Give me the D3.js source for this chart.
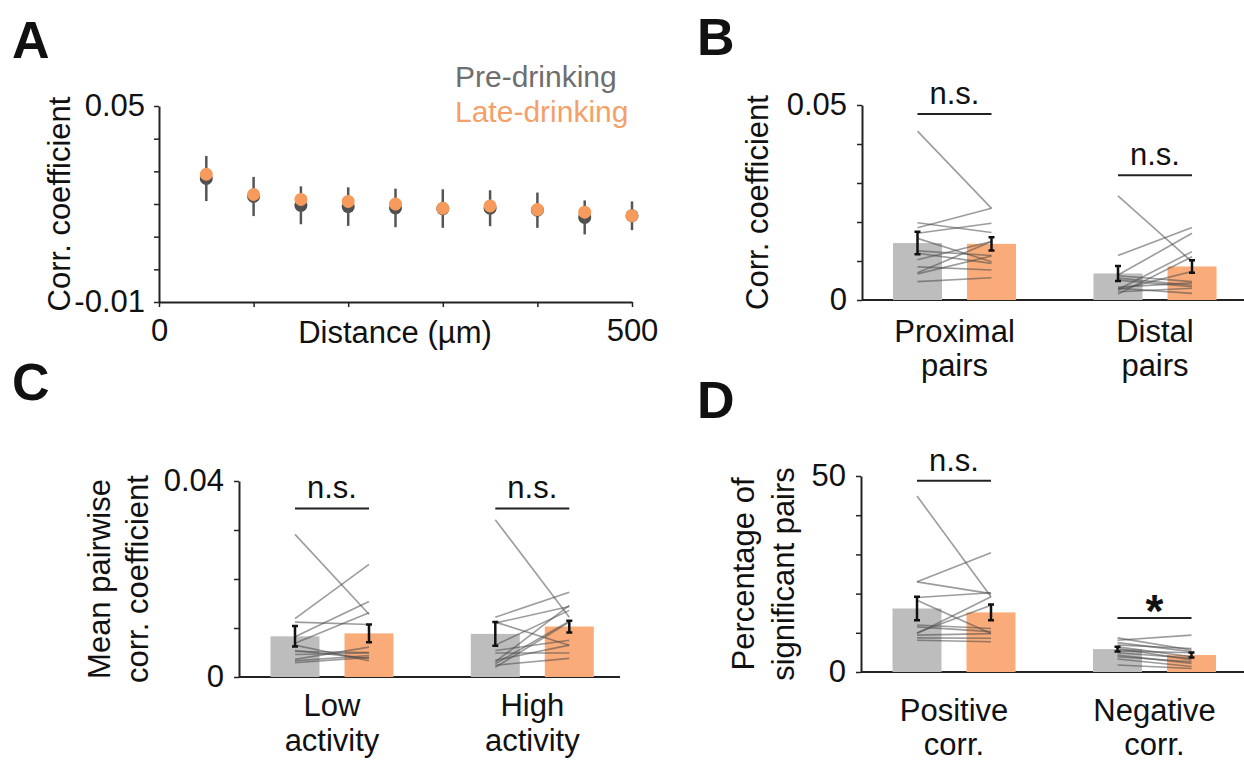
<!DOCTYPE html>
<html>
<head>
<meta charset="utf-8">
<script src="https://cdn.jsdelivr.net/npm/d3@7"></script>
<style>
  body { margin: 0; background: #fff; }
  svg text { font-family: Arial, "Liberation Sans", sans-serif; fill: #111; }
</style>
</head>
<body>
<svg id="fig" width="1244" height="761"></svg>
<script>
// ---- panel A: correlation vs distance
const distances = [50, 100, 150, 200, 250, 300, 350, 400, 450, 500];
const aPreMean  = [0.0278, 0.0223, 0.0196, 0.0192, 0.0188, 0.0186, 0.0187, 0.0181, 0.0159, 0.0164];
const aPreSem   = [0.0069, 0.0060, 0.0058, 0.0059, 0.0059, 0.0059, 0.0055, 0.0054, 0.0052, 0.0044];
const aLateMean = [0.0291, 0.0229, 0.0214, 0.0208, 0.0200, 0.0187, 0.0194, 0.0183, 0.0175, 0.0164];
const seriesNames = ['Pre-drinking', 'Late-drinking'];

// ---- panel B: proximal / distal pairs
const bGroups   = [['Proximal', 'pairs'], ['Distal', 'pairs']];
const bPreMean  = [0.0146, 0.0068];
const bLateMean = [0.0144, 0.0086];
const bPreSem   = [0.0029, 0.0019];
const bLateSem  = [0.0017, 0.0016];
const bPairs = [
  [[0.0433, 0.0235], [0.0198, 0.0173], [0.0185, 0.0235], [0.0171, 0.0197], [0.0158, 0.0098], [0.0126, 0.0114],
   [0.0120, 0.0094], [0.0103, 0.0150], [0.0085, 0.0077], [0.0070, 0.0150], [0.0067, 0.0113], [0.0047, 0.0057]],
  [[0.0267, 0.0098], [0.0114, 0.0186], [0.0064, 0.0171], [0.0062, 0.0047], [0.0056, 0.0038], [0.0027, 0.0124],
   [0.0026, 0.0073], [0.0021, 0.0030], [0.0015, 0.0111], [0.0030, 0.0017], [0.0051, 0.0034], [0.0033, 0.0044]]
];
const bSig   = ['n.s.', 'n.s.'];
const bSigAt = [0.0477, 0.0320];

// ---- panel C: low / high activity
const cGroups   = [['Low', 'activity'], ['High', 'activity']];
const cPreMean  = [0.0083, 0.0088];
const cLateMean = [0.0089, 0.0103];
const cPreSem   = [0.0021, 0.0024];
const cLateSem  = [0.0018, 0.0012];
const cPairs = [
  [[0.0291, 0.0128], [0.0119, 0.0230], [0.0112, 0.0107], [0.0082, 0.0154], [0.0069, 0.0131], [0.0065, 0.0033],
   [0.0054, 0.0038], [0.0046, 0.0049], [0.0036, 0.0061], [0.0033, 0.0044], [0.0029, 0.0040], [0.0052, 0.0050]],
  [[0.0321, 0.0122], [0.0122, 0.0173], [0.0112, 0.0065], [0.0110, 0.0144], [0.0065, 0.0136], [0.0054, 0.0075],
   [0.0049, 0.0049], [0.0031, 0.0146], [0.0027, 0.0114], [0.0024, 0.0038], [0.0020, 0.0112], [0.0034, 0.0065]]
];
const cSig   = ['n.s.', 'n.s.'];
const cSigAt = [0.0344, 0.0344];

// ---- panel D: percentage of significant pairs
const dGroups   = [['Positive', 'corr.'], ['Negative', 'corr.']];
const dPreMean  = [16.2, 5.85];
const dLateMean = [15.2, 4.33];
const dPreSem   = [3.0, 0.6];
const dLateSem  = [2.0, 0.65];
const dPairs = [
  [[44.9, 19.2], [23.0, 30.4], [23.0, 20.0], [19.0, 20.2], [18.3, 9.8], [12.0, 11.1],
   [11.5, 10.3], [10.0, 17.0], [9.8, 19.2], [9.4, 9.8], [8.7, 8.6], [8.1, 7.7]],
  [[8.7, 5.6], [8.1, 9.4], [7.5, 5.2], [6.9, 6.0], [6.0, 3.1], [5.4, 4.9],
   [4.3, 2.2], [3.9, 2.6], [3.3, 1.4], [1.8, 0.9], [6.4, 3.9], [4.9, 3.5]]
];
const dSig   = ['n.s.', '*'];
const dSigAt = [48.8, 13.8];

const greyBar = '#bdbdbd', orangeBar = '#f9ab79';
const greyDot = '#4f4f4f', orangeDot = '#f79b5c';
const axisCol = '#222';
const fs = 31;

const svg = d3.select('#fig');

function styleAxis(sel) {
  sel.attr('font-size', fs).attr('font-family', null);
  sel.select('.domain').attr('stroke', axisCol).attr('stroke-width', 2);
  sel.selectAll('.tick line').attr('stroke', axisCol).attr('stroke-width', 1.5);
  sel.selectAll('.tick text').attr('fill', '#111');
}

function panelLetter(txt, x, y) {
  svg.append('text').attr('x', x).attr('y', y)
    .attr('font-size', 52).attr('font-weight', 'bold').text(txt);
}

// ---------- panel A
panelLetter('A', 12, 58);
const xA = d3.scaleLinear().domain([0, 500]).range([159, 632]);
const yA = d3.scaleLinear().domain([-0.01, 0.05]).range([302, 106]);
const near = (a, b) => Math.abs(a - b) < 1e-9;

svg.append('g').attr('transform', 'translate(0,302)')
  .call(d3.axisBottom(xA).tickValues(d3.range(0, 501, 100)).tickSize(5).tickSizeOuter(0).tickPadding(12)
    .tickFormat(d => (d === 0 || d === 500) ? d : ''))
  .call(styleAxis);

svg.append('g').attr('transform', 'translate(159,0)')
  .call(d3.axisLeft(yA).tickValues(d3.range(-0.01, 0.0501, 0.01)).tickSize(5).tickSizeOuter(0).tickPadding(9)
    .tickFormat(d => (near(d, -0.01) || near(d, 0.05)) ? d.toFixed(2) : ''))
  .call(styleAxis);

svg.append('text').attr('transform', 'translate(70,204) rotate(-90)')
  .attr('text-anchor', 'middle').attr('font-size', fs).text('Corr. coefficient');
svg.append('text').attr('x', 395).attr('y', 343)
  .attr('text-anchor', 'middle').attr('font-size', fs).text('Distance (µm)');

const legend = svg.append('g');
legend.selectAll('text').data(seriesNames).enter().append('text')
  .attr('x', 455).attr('y', (d, i) => 87 + i * 35)
  .attr('font-size', 30)
  .style('fill', (d, i) => i === 0 ? '#6e6e6e' : '#f5a068')
  .text(d => d);

const aG = svg.append('g');
aG.selectAll('circle.pre').data(distances).enter().append('circle')
  .attr('class', 'pre')
  .attr('cx', d => xA(d)).attr('cy', (d, i) => yA(aPreMean[i])).attr('r', 6.5)
  .attr('fill', greyDot);
aG.selectAll('line.err').data(distances).enter().append('line')
  .attr('class', 'err')
  .attr('x1', d => xA(d)).attr('x2', d => xA(d))
  .attr('y1', (d, i) => yA(aPreMean[i] + aPreSem[i]))
  .attr('y2', (d, i) => yA(aPreMean[i] - aPreSem[i]))
  .attr('stroke', '#555').attr('stroke-width', 2.5);
aG.selectAll('circle.late').data(distances).enter().append('circle')
  .attr('class', 'late')
  .attr('cx', d => xA(d)).attr('cy', (d, i) => yA(aLateMean[i])).attr('r', 6.5)
  .attr('fill', orangeDot);

// ---------- bar panels B, C, D
function barPanel(p) {
  const g = svg.append('g');
  const y = d3.scaleLinear().domain([0, p.yMax]).range([p.y0, p.y1]);
  const x = d3.scalePoint().domain(d3.range(p.groups.length)).range(p.groupX);
  const off = d3.scalePoint().domain(['pre', 'late']).range([-37, 37]);
  const bw = 49;

  g.append('g').attr('transform', `translate(${p.axisX},0)`)
    .call(d3.axisLeft(y).tickValues(d3.range(0, p.yMax + p.step / 2, p.step)).tickSize(5)
      .tickSizeOuter(0).tickPadding(10)
      .tickFormat(d => (d === 0) ? '0' : (near(d, p.yMax) ? p.topLabel : '')))
    .call(styleAxis);
  g.append('line').attr('x1', p.axisX).attr('x2', p.xEnd)
    .attr('y1', y(0)).attr('y2', y(0))
    .attr('stroke', axisCol).attr('stroke-width', 2);

  p.groups.forEach((lines, i) => {
    const rows = [
      { k: 'pre', v: p.preMean[i], e: p.preSem[i], c: greyBar },
      { k: 'late', v: p.lateMean[i], e: p.lateSem[i], c: orangeBar }
    ];
    g.selectAll(null).data(rows).enter().append('rect')
      .attr('x', d => x(i) + off(d.k) - bw / 2)
      .attr('y', d => y(d.v))
      .attr('width', bw)
      .attr('height', d => y(0) - y(d.v))
      .attr('fill', d => d.c);

    g.selectAll(null).data(p.pairs[i]).enter().append('line')
      .attr('x1', x(i) + off('pre')).attr('x2', x(i) + off('late'))
      .attr('y1', d => y(d[0])).attr('y2', d => y(d[1]))
      .attr('stroke', '#4a4a4a').attr('stroke-opacity', 0.55).attr('stroke-width', 1.6);

    rows.forEach(d => {
      const cx = x(i) + off(d.k);
      g.append('path')
        .attr('d', `M${cx - 3},${y(d.v + d.e)}H${cx}V${y(d.v - d.e)}H${cx - 3}M${cx},${y(d.v + d.e)}H${cx + 3}M${cx},${y(d.v - d.e)}H${cx + 3}`)
        .attr('fill', 'none').attr('stroke', '#111').attr('stroke-width', 2.5);
    });

    const sy = y(p.sigAt[i]);
    g.append('line').attr('x1', x(i) + off('pre')).attr('x2', x(i) + off('late'))
      .attr('y1', sy).attr('y2', sy).attr('stroke', axisCol).attr('stroke-width', 2);
    const star = p.sig[i] === '*';
    g.append('text').attr('x', x(i)).attr('y', star ? sy + 9 : sy - 10)
      .attr('text-anchor', 'middle')
      .attr('font-size', star ? 46 : fs).attr('font-weight', star ? 'bold' : null)
      .text(p.sig[i]);

    g.append('text').attr('text-anchor', 'middle').attr('font-size', fs)
      .selectAll('tspan').data(lines).enter().append('tspan')
      .attr('x', x(i)).attr('y', (d, j) => p.labelY[j])
      .text(d => d);
  });

  g.append('text').attr('text-anchor', 'middle').attr('font-size', fs)
    .attr('transform', `translate(0,${(p.y0 + p.y1) / 2}) rotate(-90)`)
    .selectAll('tspan').data(p.yTitle).enter().append('tspan')
    .attr('x', 0).attr('y', (d, j) => p.yTitleX[j])
    .text(d => d);
}

panelLetter('B', 697, 55);
barPanel({
  axisX: 862, xEnd: 1244, y0: 300, y1: 105, yMax: 0.05, step: 0.01, topLabel: '0.05',
  groupX: [954.5, 1155], labelY: [342, 376],
  yTitle: ['Corr. coefficient'], yTitleX: [768],
  groups: bGroups, preMean: bPreMean, lateMean: bLateMean, preSem: bPreSem, lateSem: bLateSem,
  pairs: bPairs, sig: bSig, sigAt: bSigAt
});

panelLetter('C', 12, 400);
barPanel({
  axisX: 239, xEnd: 620, y0: 677, y1: 481, yMax: 0.04, step: 0.01, topLabel: '0.04',
  groupX: [332, 532.3], labelY: [716, 751],
  yTitle: ['Mean pairwise', 'corr. coefficient'], yTitleX: [110, 148],
  groups: cGroups, preMean: cPreMean, lateMean: cLateMean, preSem: cPreSem, lateSem: cLateSem,
  pairs: cPairs, sig: cSig, sigAt: cSigAt
});

panelLetter('D', 697, 418);
barPanel({
  axisX: 861, xEnd: 1244, y0: 672, y1: 476, yMax: 50, step: 10, topLabel: '50',
  groupX: [954, 1154.5], labelY: [721, 755],
  yTitle: ['Percentage of', 'significant pairs'], yTitleX: [754, 794],
  groups: dGroups, preMean: dPreMean, lateMean: dLateMean, preSem: dPreSem, lateSem: dLateSem,
  pairs: dPairs, sig: dSig, sigAt: dSigAt
});
</script>
</body>
</html>
